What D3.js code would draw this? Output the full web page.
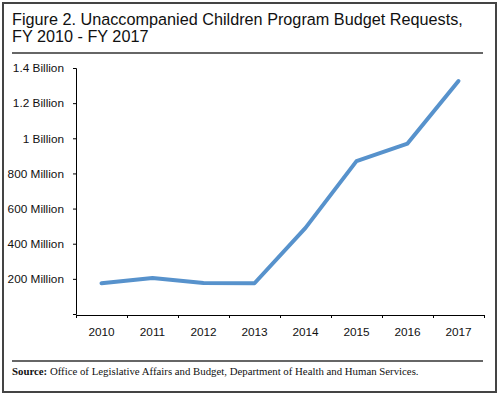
<!DOCTYPE html>
<html>
<head>
<meta charset="utf-8">
<script src="https://cdn.jsdelivr.net/npm/d3@7"></script>
<style>
  body { margin: 0; background: #fff; }
  .axis path, .axis line { stroke: #000; }
  .axis text { font-family: "Liberation Sans", Arial, sans-serif; font-size: 11.8px; fill: #111; }
</style>
</head>
<body>
<div id="chart"></div>
<script>
const years = ['2010', '2011', '2012', '2013', '2014', '2015', '2016', '2017']
const requests = [175e6, 205e6, 177e6, 175e6, 490e6, 870e6, 970e6, 1326e6]
const yTicks = [0, 200e6, 400e6, 600e6, 800e6, 1000e6, 1200e6, 1400e6]
const yTickLabels = ['', '200 Million', '400 Million', '600 Million', '800 Million', '1 Billion', '1.2 Billion', '1.4 Billion']

const W = 500, H = 397
const plot = {left: 76, right: 484, top: 68, bottom: 314}

const svg = d3.select('#chart').append('svg')
  .attr('width', W)
  .attr('height', H)

// outer frame
svg.append('rect')
  .attr('x', 3).attr('y', 3)
  .attr('width', 493).attr('height', 389)
  .attr('fill', 'none')
  .attr('stroke', '#444')
  .attr('stroke-width', 2)

// title, sized so the first line spans the same width as the original
const title = svg.append('text')
  .attr('font-family', '"Liberation Sans", Arial, sans-serif')
  .attr('font-size', 17)
  .attr('fill', '#111')
const t1 = title.append('tspan').attr('x', 12).attr('y', 25)
  .text('Figure 2. Unaccompanied Children Program Budget Requests,')
title.append('tspan').attr('x', 12).attr('y', 42)
  .text('FY 2010 - FY 2017')
const tw = t1.node().getComputedTextLength()
title.attr('font-size', 17 * 451 / tw)

svg.append('line')
  .attr('x1', 12).attr('x2', 483)
  .attr('y1', 53).attr('y2', 53)
  .attr('stroke', '#333').attr('stroke-width', 1.5)

const xScale = d3.scaleBand()
  .domain(years)
  .range([plot.left, plot.right])

// band edges, used for the x tick marks
const xEdges = d3.scaleLinear()
  .domain([0, years.length])
  .range([plot.left, plot.right])

const yScale = d3.scaleLinear()
  .domain([0, 1400e6])
  .range([plot.bottom, plot.top])

svg.append('g')
  .attr('class', 'axis')
  .attr('transform', 'translate(' + plot.left + ',0)')
  .call(d3.axisLeft(yScale)
    .tickValues(yTicks)
    .tickSize(3)
    .tickPadding(9)
    .tickFormat((d, i) => yTickLabels[i]))

svg.append('g')
  .attr('class', 'axis')
  .attr('transform', 'translate(0,' + (plot.bottom + 1) + ')')
  .call(d3.axisBottom(xEdges)
    .ticks(years.length)
    .tickSize(3)
    .tickSizeOuter(3)
    .tickFormat(''))

svg.append('g')
  .attr('class', 'axis')
  .attr('transform', 'translate(0,' + (plot.bottom + 1) + ')')
  .call(d3.axisBottom(xScale).tickSize(0).tickPadding(13))
  .call(g => g.select('.domain').remove())

const line = d3.line()
  .x((d, i) => xScale(years[i]) + xScale.bandwidth() / 2)
  .y(d => yScale(d))

svg.append('path')
  .datum(requests)
  .attr('fill', 'none')
  .attr('stroke', '#5792cc')
  .attr('stroke-width', 4)
  .attr('stroke-linejoin', 'round')
  .attr('stroke-linecap', 'round')
  .attr('d', line)

// source note
svg.append('line')
  .attr('x1', 12).attr('x2', 483)
  .attr('y1', 361).attr('y2', 361)
  .attr('stroke', '#333').attr('stroke-width', 1.5)

const source = svg.append('text')
  .attr('x', 12).attr('y', 375)
  .attr('font-family', '"Liberation Serif", "Times New Roman", serif')
  .attr('font-size', 10.8)
  .attr('fill', '#111')
source.append('tspan').attr('font-weight', 'bold').text('Source:')
source.append('tspan').text(' Office of Legislative Affairs and Budget, Department of Health and Human Services.')
</script>
</body>
</html>
